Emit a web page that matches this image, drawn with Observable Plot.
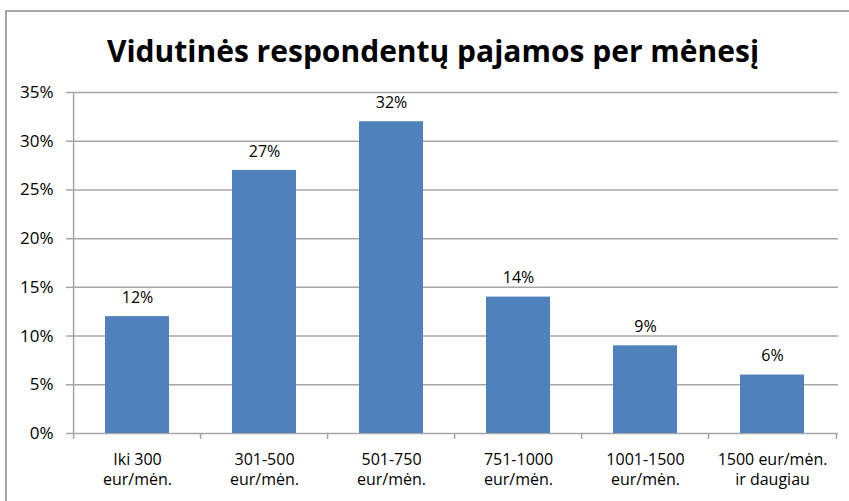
<!DOCTYPE html>
<html>
<head>
<meta charset="utf-8">
<script src="https://cdn.jsdelivr.net/npm/d3@7"></script>
<script src="https://cdn.jsdelivr.net/npm/@observablehq/plot@0.6"></script>
<style>
  html, body { margin: 0; padding: 0; background: #fff; width: 849px; height: 501px; overflow: hidden; }
  #frame { position: absolute; left: 5px; top: 10px; width: 900px; height: 600px; border-left: 2px solid #A6A6A6; border-top: 2px solid #A6A6A6; box-sizing: border-box; }
  #title { position: absolute; left: 0; width: 866px; top: 32px; line-height: 38px; text-align: center; font-family: "Open Sans", sans-serif; font-weight: bold; font-size: 30px; color: #000; }
  #chart { position: absolute; left: 0; top: 80px; }
</style>
</head>
<body>
<div id="frame"></div>
<div id="title">Vidutinės respondentų pajamos per mėnesį</div>
<div id="chart"></div>
<script>
const categories = ["Iki 300\neur/mėn.", "301-500\neur/mėn.", "501-750\neur/mėn.", "751-1000\neur/mėn.", "1001-1500\neur/mėn.", "1500 eur/mėn.\nir daugiau"];
const values = [12, 27, 32, 14, 9, 6];
const yTicks = [0, 5, 10, 15, 20, 25, 30, 35];

const data = categories.map((c, i) => ({category: c, value: values[i]}));

const W = 849, H = 421, ML = 71, MR = 11, MT = 12, MB = 68;
const step = (W - ML - MR) / categories.length;
const grid = "#A6A6A6";
const font = "'Open Sans', sans-serif";

const chart = Plot.plot({
  width: W,
  height: H,
  marginLeft: ML,
  marginRight: MR,
  marginTop: MT,
  marginBottom: MB,
  style: {fontFamily: font, fontSize: "16px", color: "#000", background: "none", overflow: "visible"},
  x: {type: "band", domain: categories, paddingInner: 0.5, paddingOuter: 0.25, label: null},
  y: {type: "linear", domain: [0, 35], label: null},
  marks: [
    Plot.ruleY(yTicks, {y: d => d, stroke: grid, strokeWidth: 1.5, strokeOpacity: 1}),
    Plot.barY(data, {x: "category", y: "value", fill: "#4F81BD"}),
    Plot.text(data, {x: "category", y: "value", text: d => d.value + "%", dy: -19, fontSize: 16, fill: "#000"}),
    Plot.axisY({ticks: yTicks, tickFormat: d => d + "%", tickSize: 5, tickPadding: 13, stroke: grid, strokeWidth: 1.5, strokeOpacity: 1, fontSize: 17, fill: "#000"}),
    Plot.ruleX(categories, {x: d => d, dx: -step / 2, y1: 0, y2: 35, stroke: grid, strokeWidth: 1.5, filter: (d, i) => i === 0}),
    Plot.ruleX(categories, {x: d => d, dx: -step / 2, y1: 0, y2: 0, insetBottom: -6, stroke: grid, strokeWidth: 1.5}),
    Plot.ruleX(categories, {x: d => d, dx: step / 2, y1: 0, y2: 0, insetBottom: -6, stroke: grid, strokeWidth: 1.5, filter: (d, i) => i === categories.length - 1}),
    Plot.axisX({tickSize: 0, tickPadding: 17, fontSize: 16, lineHeight: 1.25, fill: "#000"})
  ]
});

document.getElementById("chart").appendChild(chart);
</script>
</body>
</html>
